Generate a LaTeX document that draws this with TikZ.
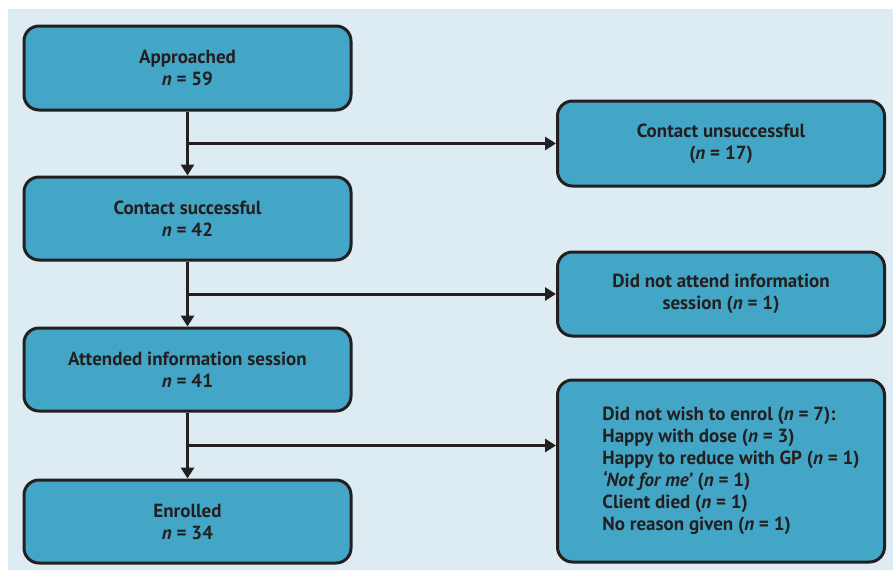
\documentclass[tikz,border=0pt]{standalone}
\usepackage{fontspec}
\setmainfont{PT Sans}
\usetikzlibrary{arrows.meta,calc}
\definecolor{bgblue}{HTML}{DDEBF2}
\definecolor{boxblue}{HTML}{44A6C6}
\definecolor{ink}{HTML}{231F20}
\tikzset{
  flowbox/.style={draw=ink, line width=3pt, fill=boxblue, rounded corners=15pt,
    minimum width=327pt, inner sep=0pt, align=center, text=ink,
    font=\bfseries\fontsize{19}{22}\selectfont},
  conn/.style={draw=ink, line width=3pt, -{Triangle[width=13pt,length=11pt]}}
}
\begin{document}
\begin{tikzpicture}[x=1pt,y=-1pt]
\useasboundingbox (0,0) rectangle (893,573);
\fill[white] (0,0) rectangle (893,573);
\fill[bgblue] (8,9) rectangle (893,570);
\node[flowbox, minimum height=84pt] (app) at (187.5,68) {Approached\\\textit{n} = 59};
\node[flowbox, minimum height=83pt] (cs) at (187.5,218.5) {Contact successful\\\textit{n} = 42};
\node[flowbox, minimum height=83pt] (att) at (187.5,369.5) {Attended information session\\\textit{n} = 41};
\node[flowbox, minimum height=83pt] (enr) at (187.5,521.5) {Enrolled\\\textit{n} = 34};
\node[flowbox, minimum height=85pt] (cu) at (721,143.5) {Contact unsuccessful\\(\textit{n} = 17)};
\node[flowbox, minimum height=84pt] (dna) at (721,294) {Did not attend information\\session (\textit{n} = 1)};
\node[flowbox, minimum height=182pt] (dnw) at (721,471) {\raisebox{-2pt}{\begin{tabular}{@{\hspace{20pt}}l@{}}Did not wish to enrol (\textit{n} = 7):\\Happy with dose (\textit{n} = 3)\\Happy to reduce with GP (\textit{n} = 1)\\\textit{`Not for me'} (\textit{n} = 1)\\Client died (\textit{n} = 1)\\No reason given (\textit{n} = 1)\end{tabular}}};
\coordinate (b3) at ($(att.south)!0.5!(enr.north)$);
\draw[conn] (app.south) -- (cs.north);
\draw[conn] (cs.south) -- (att.north);
\draw[conn] (att.south) -- (enr.north);
\draw[conn] (cu.west -| app.south) -- (cu.west);
\draw[conn] (dna.west -| cs.south) -- (dna.west);
\draw[conn] (b3) -- (b3 -| dnw.west);
\end{tikzpicture}
\end{document}
